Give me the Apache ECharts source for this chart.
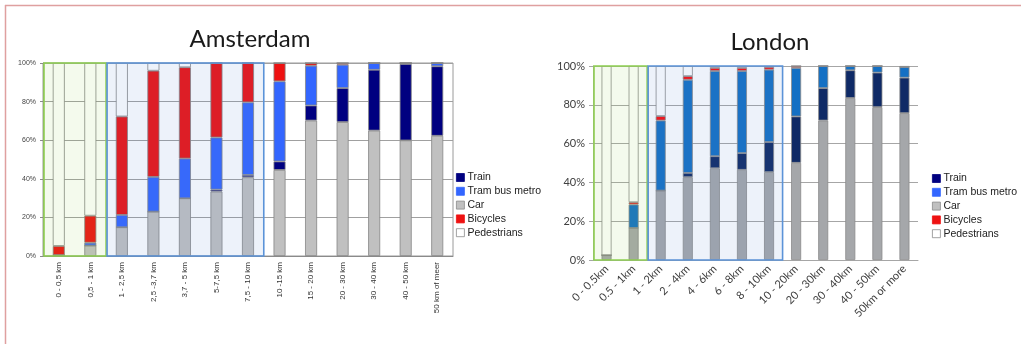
<!DOCTYPE html>
<html>
<head>
<meta charset="utf-8">
<script src="https://cdn.jsdelivr.net/npm/echarts@6/dist/echarts.min.js"></script>
<style>
  html, body { margin: 0; padding: 0; background: #ffffff; }
  #chart { width: 1027px; height: 344px; }
</style>
</head>
<body>
<div id="chart"></div>
<script>
// Modal split (share of trips, %) by trip distance
const amsCategories = ['0 - 0,5 km', '0,5 - 1 km', '1 - 2,5 km', '2,5 -3,7 km', '3,7 - 5 km', '5-7,5 km',
  '7,5 - 10 km', '10 -15 km', '15 - 20 km', '20 - 30 km', '30 - 40 km', '40 - 50 km', '50 km of meer'];
const amsCar         = [0, 5.4, 14.9, 23, 29.9, 33.4, 40.8, 44.6, 70.2, 69.4, 65, 59.9, 62.3];
const amsTrain       = [0.5, 0, 0, 0, 0, 1.0, 1.2, 4.4, 7.8, 17.6, 31.5, 39.6, 36];
const amsTram        = [0, 1.5, 6.4, 18, 20.6, 27, 37.6, 41.5, 20.6, 12.1, 3.5, 0.5, 1.7];
const amsBicycles    = [4.7, 14, 51, 55, 47.3, 38.6, 20.4, 9.5, 1.4, 0.9, 0, 0, 0];
const amsPedestrians = [94.8, 79.1, 27.7, 4, 2.2, 0, 0, 0, 0, 0, 0, 0, 0];

const lonCategories = ['0 - 0.5km', '0.5 - 1km', '1 - 2km', '2 - 4km', '4 - 6km', '6 - 8km', '8 - 10km',
  '10 - 20km', '20 - 30km', '30 - 40km', '40 - 50km', '50km or more'];
const lonCar         = [2.5, 16.5, 35.8, 42.7, 47.3, 46.5, 45.3, 50.1, 71.9, 83.5, 78.8, 75.7];
const lonTrain       = [0, 0, 0, 2.2, 6.2, 8.6, 15.5, 23.9, 16.7, 14.3, 17.8, 18.3];
const lonTram        = [0, 12.1, 36.1, 48, 43.9, 42.3, 37.3, 25, 11.4, 2.2, 3.4, 5.5];
const lonBicycles    = [0, 1.2, 2.3, 1.9, 1.6, 1.6, 1.4, 1.0, 0, 0, 0, 0];
const lonPedestrians = [97.5, 70.2, 25.8, 5.2, 1, 1, 0.5, 0, 0, 0, 0, 0.5];

const yTicks = [0, 20, 40, 60, 80, 100];
const legendNames = ['Train', 'Tram bus metro', 'Car', 'Bicycles', 'Pedestrians'];

// Highlighted distance bands: [first category index, last category index]
const shortBand = [0, 1];
const midBand = [2, 6];

const amsColors = { Car: '#c0c0c0', Train: '#000080', 'Tram bus metro': '#3366ff', Bicycles: '#ee1111', Pedestrians: '#ffffff' };
const lonColors = { Car: '#a5a7aa', Train: '#0f2a66', 'Tram bus metro': '#1470c4', Bicycles: '#ff0a0a', Pedestrians: '#ffffff' };

const chart = echarts.init(document.getElementById('chart'), null, { renderer: 'canvas' });

function stackSeries(name, data, axisIdx, stack, colors, barWidth, border) {
  return {
    name: name, type: 'bar', stack: stack, data: data,
    xAxisIndex: axisIdx, yAxisIndex: axisIdx, barWidth: barWidth,
    itemStyle: { color: colors[name], borderColor: border, borderWidth: 0.8 },
    emphasis: { disabled: true }
  };
}

const amsSeries = [
  ['Car', amsCar], ['Train', amsTrain], ['Tram bus metro', amsTram], ['Bicycles', amsBicycles], ['Pedestrians', amsPedestrians]
].map(([n, d]) => stackSeries(n, d, 0, 'ams', amsColors, 12, '#858585'));

const lonSeries = [
  ['Car', lonCar], ['Train', lonTrain], ['Tram bus metro', lonTram], ['Bicycles', lonBicycles], ['Pedestrians', lonPedestrians]
].map(([n, d]) => stackSeries(n, d, 1, 'lon', lonColors, 10, '#8a8a8a'));

function legendFor(left, top) {
  return {
    orient: 'vertical', left: left, top: top,
    itemWidth: 8, itemHeight: 8, itemGap: 2.8, padding: 0,
    icon: 'rect',
    textStyle: { fontFamily: 'Liberation Sans, Arial, sans-serif', fontSize: 10.5, color: '#222', padding: [0, 0, 0, -2] },
    data: legendNames.map(n => ({
      name: n,
      itemStyle: { color: amsColors[n], borderColor: n === 'Pedestrians' || n === 'Car' ? '#8a8a8a' : amsColors[n], borderWidth: 0.8 }
    }))
  };
}

chart.setOption({
  animation: false,
  grid: [
    { left: 43, top: 63, width: 410, height: 193, show: true, borderColor: '#9a9a9a', borderWidth: 1 },
    { left: 593, top: 66, width: 325, height: 194 }
  ],
  legend: [legendFor(456, 172), legendFor(932, 173)],
  xAxis: [
    {
      type: 'category', gridIndex: 0, data: amsCategories,
      axisLine: { lineStyle: { color: '#8a8a8a', width: 1 } },
      axisTick: { length: 3, lineStyle: { color: '#8a8a8a' } },
      axisLabel: { rotate: 90, interval: 0, margin: 6, fontSize: 8, color: '#333',
        fontFamily: 'Liberation Sans, Arial, sans-serif' }
    },
    {
      type: 'category', gridIndex: 1, data: lonCategories,
      axisLine: { lineStyle: { color: '#a6a6a6', width: 1 } },
      axisTick: { length: 4, lineStyle: { color: '#a6a6a6' } },
      axisLabel: { rotate: 45, interval: 0, margin: 7, fontSize: 11, color: '#404040',
        fontFamily: 'Lato, sans-serif' }
    }
  ],
  yAxis: [
    {
      type: 'value', gridIndex: 0, min: 0, max: 100, interval: 20,
      axisLine: { show: true, lineStyle: { color: '#8a8a8a' } },
      axisTick: { show: true, length: 3, lineStyle: { color: '#8a8a8a' } },
      splitLine: { lineStyle: { color: '#a0a0a0', width: 1 } },
      axisLabel: { margin: 7, fontSize: 7, color: '#444', formatter: v => yTicks.includes(v) ? v + '%' : '',
        fontFamily: 'Liberation Sans, Arial, sans-serif' }
    },
    {
      type: 'value', gridIndex: 1, min: 0, max: 100, interval: 20,
      axisLine: { show: true, lineStyle: { color: '#a6a6a6' } },
      axisTick: { show: true, length: 4, lineStyle: { color: '#a6a6a6' } },
      splitLine: { lineStyle: { color: '#a6a6a6', width: 1 } },
      axisLabel: { margin: 8, fontSize: 11, color: '#404040', formatter: v => yTicks.includes(v) ? v + '%' : '',
        fontFamily: 'Lato, sans-serif' }
    }
  ],
  series: amsSeries.concat(lonSeries)
});

// Tinted frames around the short- and medium-distance bands, placed from the axes
function bandRect(axisIdx, cats, band, fill, stroke) {
  const c0 = chart.convertToPixel({ xAxisIndex: axisIdx }, cats[band[0]]);
  const c1 = chart.convertToPixel({ xAxisIndex: axisIdx }, cats[1]);
  const c00 = chart.convertToPixel({ xAxisIndex: axisIdx }, cats[0]);
  const bw = c1 - c00;
  const cEnd = chart.convertToPixel({ xAxisIndex: axisIdx }, cats[band[1]]);
  const yTop = chart.convertToPixel({ yAxisIndex: axisIdx }, 100);
  const yBot = chart.convertToPixel({ yAxisIndex: axisIdx }, 0);
  const x0 = c0 - bw / 2, x1 = cEnd + bw / 2;
  return {
    type: 'rect', z: 100, silent: true,
    shape: { x: x0 + 1, y: yTop, width: x1 - x0 - 1, height: yBot - yTop },
    style: { fill: fill, stroke: stroke, lineWidth: 1.6 }
  };
}

const green = 'rgba(146, 208, 80, 0.10)', greenLine = '#8fcf52';
const blue = 'rgba(91, 140, 214, 0.11)', blueLine = '#5b93d8';

chart.setOption({
  graphic: [
    // slide frame
    { type: 'line', silent: true, shape: { x1: 5, y1: 5.5, x2: 1021, y2: 5.5 }, style: { stroke: '#dfa0a0', lineWidth: 1.5 } },
    { type: 'line', silent: true, shape: { x1: 5.5, y1: 5, x2: 5.5, y2: 344 }, style: { stroke: '#dfa0a0', lineWidth: 1.5 } },
    // chart titles
    { type: 'text', silent: true, x: 250, y: 39,
      style: { text: 'Amsterdam', font: '24px Lato, sans-serif', fill: '#1a1a1a', textAlign: 'center', textVerticalAlign: 'middle' } },
    { type: 'text', silent: true, x: 770, y: 42,
      style: { text: 'London', font: '24px Lato, sans-serif', fill: '#1a1a1a', textAlign: 'center', textVerticalAlign: 'middle' } },
    bandRect(0, amsCategories, shortBand, green, greenLine),
    bandRect(0, amsCategories, midBand, blue, blueLine),
    bandRect(1, lonCategories, shortBand, green, greenLine),
    bandRect(1, lonCategories, midBand, blue, blueLine)
  ]
});
</script>
</body>
</html>
